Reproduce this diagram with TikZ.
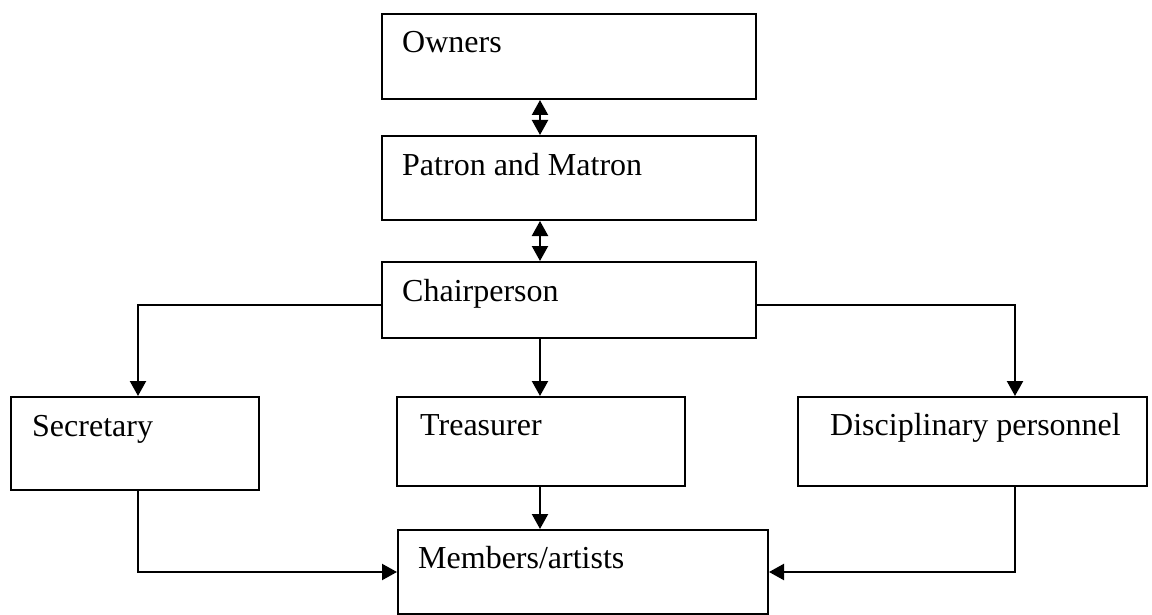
\documentclass[tikz,border=0pt]{standalone}
\usepackage{fontspec}
\setmainfont{Liberation Serif}
\usetikzlibrary{arrows.meta}
\begin{document}
\begin{tikzpicture}[x=1pt,y=-1pt,
  box/.style={draw,line width=2pt,rectangle,inner sep=0pt,anchor=north west},
  lbl/.style={anchor=base west,inner sep=0pt,font=\fontsize{32}{36}\selectfont},
  tip/.style={Triangle[length=15pt,width=16pt]},
  link/.style={line width=2.2pt,-{Triangle[length=15pt,width=16pt]}},
  dlink/.style={line width=2.2pt,{Triangle[length=15pt,width=16pt]}-{Triangle[length=15pt,width=16pt]}}]
\useasboundingbox (0,0) rectangle (1152,615);

% boxes
\node[box,minimum width=374pt,minimum height=85pt] (owners) at (381,13) {};
\node[box,minimum width=374pt,minimum height=84pt] (patron) at (381,135) {};
\node[box,minimum width=374pt,minimum height=76pt] (chair)  at (381,261) {};
\node[box,minimum width=248pt,minimum height=93pt] (sec)    at (10,396) {};
\node[box,minimum width=288pt,minimum height=89pt] (treas)  at (396,396) {};
\node[box,minimum width=349pt,minimum height=89pt] (disc)   at (797,396) {};
\node[box,minimum width=370pt,minimum height=84pt] (memb)   at (397,529) {};

% texts
\node[lbl] (towners) at (402,53)  {Owners};
\node[lbl] (tpatron) at (402,176) {Patron and Matron};
\node[lbl] (tchair)  at (402,301) {Chairperson};
\node[lbl] (tsec)    at (32,436)  {Secretary};
\node[lbl] (ttreas)  at (420,435) {Treasurer};
\node[lbl] (tdisc)   at (830,435) {Disciplinary personnel};
\node[lbl] (tmemb)   at (418,568) {Members/artists};

% routing guides
\coordinate (xm) at (540,0);
\coordinate (xs) at (138,0);
\coordinate (xd) at (1015,0);
\coordinate (yb) at (0,305);
\coordinate (ym) at (0,572);

% connectors
\draw[dlink] (owners.south -| xm) -- (patron.north -| xm);
\draw[dlink] (patron.south -| xm) -- (chair.north -| xm);
\draw[link] (chair.west |- yb) -| (sec.north -| xs);
\draw[link] (chair.east |- yb) -| (disc.north -| xd);
\draw[link] (chair.south -| xm) -- (treas.north -| xm);
\draw[link] (treas.south -| xm) -- (memb.north -| xm);
\draw[link] (sec.south -| xs) |- (memb.west |- ym);
\draw[link] (disc.south -| xd) |- (memb.east |- ym);
\end{tikzpicture}
\end{document}
